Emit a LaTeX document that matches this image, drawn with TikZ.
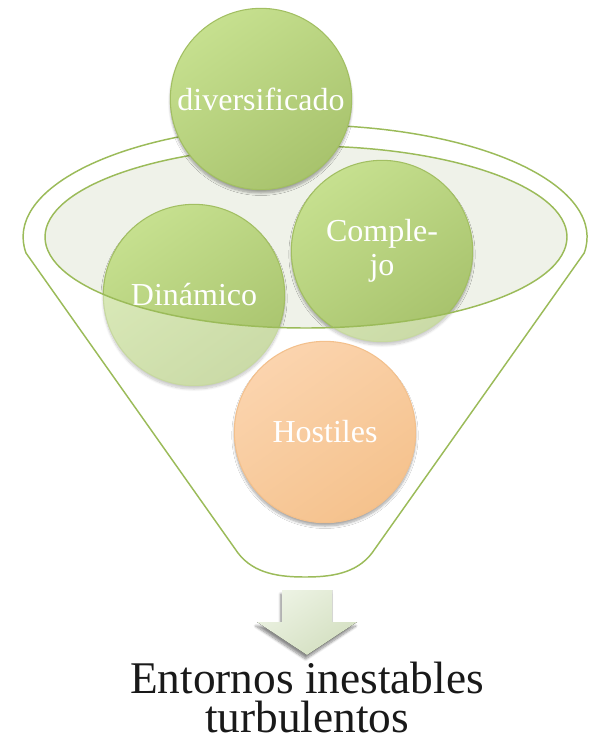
\documentclass[tikz,border=0pt]{standalone}
\usepackage{fontspec}
\setmainfont{Liberation Serif}
\usetikzlibrary{shadows.blur}
\definecolor{leaf}{HTML}{9BBB59}
\definecolor{mist}{HTML}{EFF2E9}
\definecolor{balltop}{HTML}{C6E08F}
\definecolor{ballbottom}{HTML}{A8C36D}
\definecolor{ballline}{HTML}{A2BF62}
\definecolor{peachtop}{HTML}{FBD4AE}
\definecolor{peachbottom}{HTML}{F5C28D}
\definecolor{peachline}{HTML}{F3C08C}
\definecolor{arrowtop}{HTML}{EDF3E4}
\definecolor{arrowbottom}{HTML}{D3DFC0}
\tikzstyle{funnel}=[draw=leaf, line width=1.1pt]
\tikzstyle{ball}=[circle, minimum size=136pt, inner sep=0pt, align=center, text=white,
  font=\fontsize{24}{25.5}\selectfont, draw=ballline, line width=0.8pt,
  top color=balltop, bottom color=ballbottom, shading angle=35,
  blur shadow={shadow xshift=0pt, shadow yshift=-2.5pt, shadow opacity=35, shadow blur steps=8}]
\tikzstyle{hostile}=[ball, draw=peachline, top color=peachtop, bottom color=peachbottom, shading angle=35]
\tikzstyle{blockarrow}=[top color=arrowtop, bottom color=arrowbottom, shading angle=35,
  blur shadow={shadow xshift=-1pt, shadow yshift=-3pt, shadow opacity=45, shadow blur steps=8}]
\tikzstyle{caption}=[align=center, font=\fontsize{34}{29.25}\selectfont, text=black!90, inner sep=0pt]

\begin{document}
\begin{tikzpicture}[x=0.75pt, y=0.75pt]
	\useasboundingbox (0,0) rectangle (591,-743);
	% mouth of the funnel
	\fill [color=mist] (306,-237) ellipse [x radius=261, y radius=91];
	\node [style=ball] (1) at (194,-295) {Dinámico};
	\node [style=ball] (2) at (382,-251) {Comple-\\jo};
	% funnel body, washes out what lies under it
	\fill [white, fill opacity=0.4, even odd rule] (26,-253)
		arc [start angle=188.2, end angle=-8.2, x radius=282, y radius=112]
		-- (372,-553) .. controls (356,-574) and (330,-577) .. (305,-577)
		.. controls (280,-577) and (254,-574) .. (238,-553) -- cycle
		(306,-237) ellipse [x radius=261, y radius=91];
	\draw [style=funnel] (26,-253)
		arc [start angle=188.2, end angle=-8.2, x radius=282, y radius=112]
		-- (372,-553) .. controls (356,-574) and (330,-577) .. (305,-577)
		.. controls (280,-577) and (254,-574) .. (238,-553) -- cycle;
	\draw [style=funnel] (306,-237) ellipse [x radius=261, y radius=91];
	\node [style=ball] (0) at (261,-99) {diversificado};
	\node [style=hostile] (3) at (325,-432) {Hostiles};
	% arrow out of the funnel
	\fill [style=blockarrow] (282,-590) -- (332,-590) -- (332,-622) -- (357,-622)
		-- (307,-655) -- (257,-622) -- (282,-622) -- cycle;
	\node [style=caption] (4) at (307,-697) {Entornos inestables\\turbulentos};
\end{tikzpicture}
\end{document}
